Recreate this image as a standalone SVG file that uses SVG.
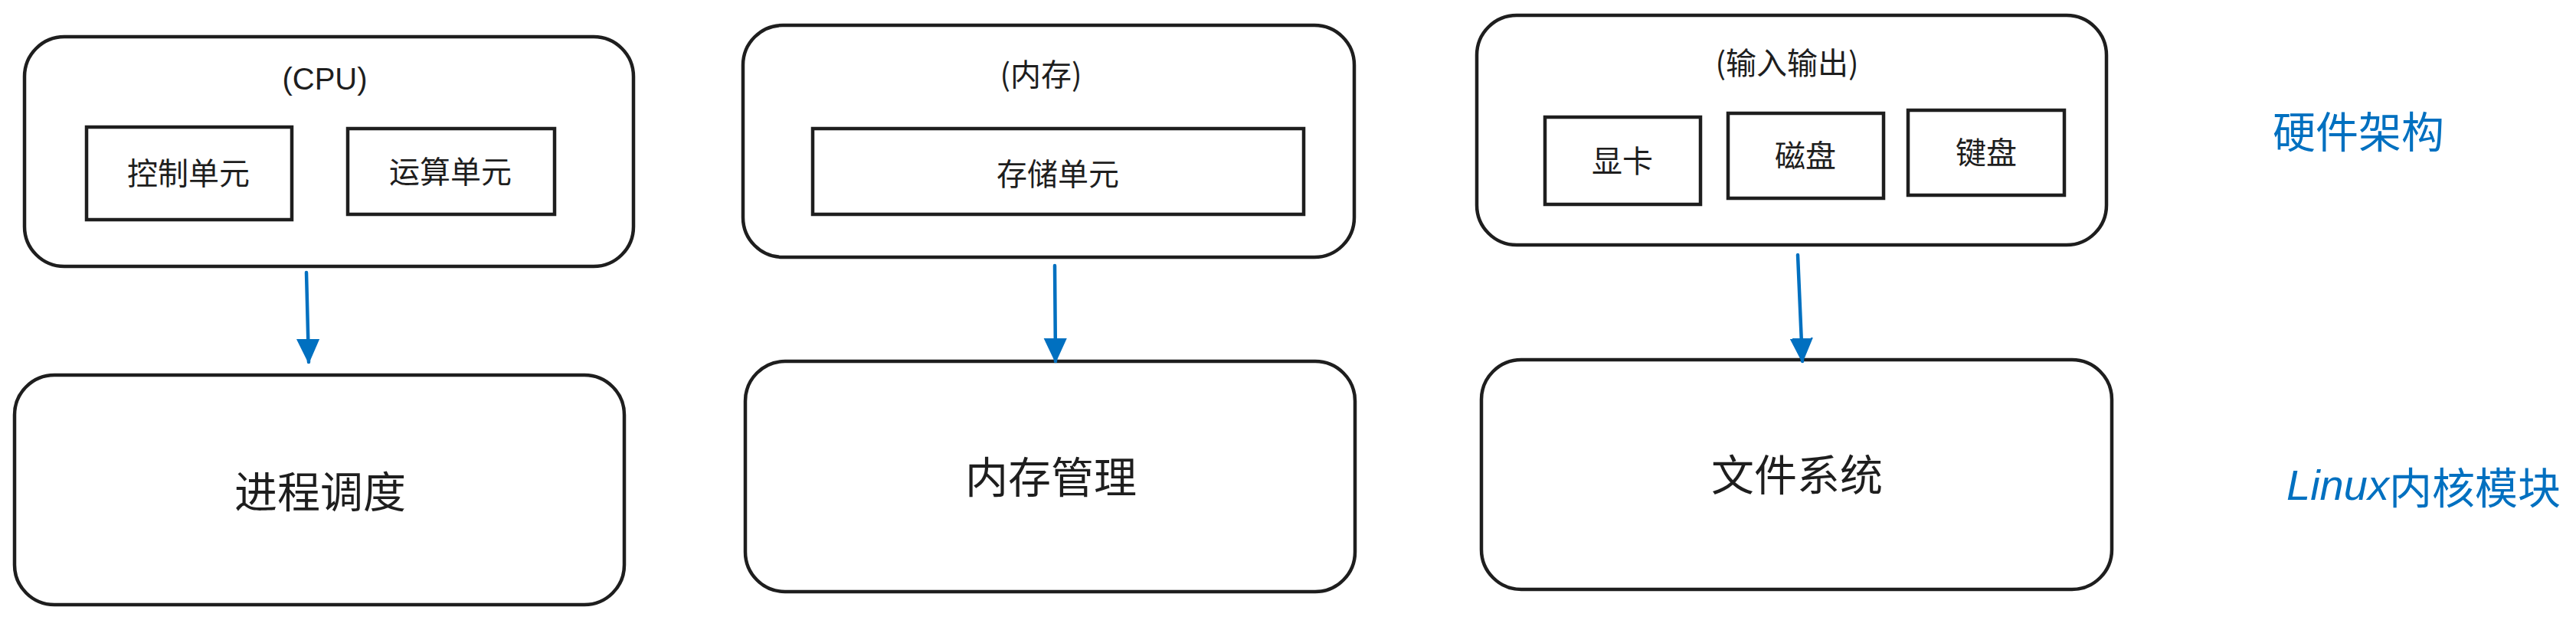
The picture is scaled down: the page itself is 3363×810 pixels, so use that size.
<svg xmlns="http://www.w3.org/2000/svg" width="3363" height="810" viewBox="0 0 3363 810">
  <defs>
    <marker id="ah" markerUnits="userSpaceOnUse" markerWidth="32" markerHeight="32" viewBox="0 0 32 32" refX="30" refY="16" orient="auto">
      <path d="M0,2 L30,16 L0,30 Z" fill="#0070c0" stroke="#0070c0" stroke-width="2" stroke-linejoin="round"/>
    </marker>
  </defs>
  <style>
    .outer { fill: #ffffff; stroke: #1e1e1e; stroke-width: 4.5; }
    .inner { fill: #ffffff; stroke: #1e1e1e; stroke-width: 4.5; }
    .t { font-family: "Noto Sans CJK SC", "Noto Sans", "Liberation Sans", sans-serif; fill: #1e1e1e; text-anchor: middle; dominant-baseline: central; }
    .s40 { font-size: 40px; }
    .s56 { font-size: 56px; }
    .lbl { font-family: "Noto Sans CJK SC", "Noto Sans", "Liberation Sans", sans-serif; fill: #0070c0; font-size: 56px; dominant-baseline: central; }
    .lat { font-family: "Liberation Sans", "Noto Sans", sans-serif; font-style: italic; }
    .conn { stroke: #0070c0; stroke-width: 4.5; fill: none; stroke-linecap: round; }
  </style>
  <rect width="3363" height="810" fill="#ffffff"/>

  <g id="cpu">
    <rect class="outer" x="32" y="48" width="795" height="300" rx="52" ry="52"/>
    <text class="t s40" x="424" y="103" style="font-family: 'Liberation Sans', 'Noto Sans CJK SC', sans-serif;">(CPU)</text>
  </g>
  <g id="ctrl-unit">
    <rect class="inner" x="113" y="166" width="268" height="121"/>
    <text class="t s40" x="246" y="224">控制单元</text>
  </g>
  <g id="alu-unit">
    <rect class="inner" x="454" y="168" width="270" height="112"/>
    <text class="t s40" x="588" y="222">运算单元</text>
  </g>

  <g id="memory">
    <rect class="outer" x="970" y="33" width="798" height="303" rx="52" ry="52"/>
    <text class="t s40" x="1359" y="95">(内存)</text>
  </g>
  <g id="storage-unit">
    <rect class="inner" x="1061" y="168" width="641" height="112"/>
    <text class="t s40" x="1381" y="225">存储单元</text>
  </g>

  <g id="io">
    <rect class="outer" x="1928" y="20" width="822" height="300" rx="52" ry="52"/>
    <text class="t s40" x="2333" y="80">(输入输出)</text>
  </g>
  <g id="gpu">
    <rect class="inner" x="2017" y="153" width="203" height="114"/>
    <text class="t s40" x="2118" y="208">显卡</text>
  </g>
  <g id="disk">
    <rect class="inner" x="2256" y="148" width="203" height="111"/>
    <text class="t s40" x="2357" y="201">磁盘</text>
  </g>
  <g id="keyboard">
    <rect class="inner" x="2491" y="144" width="204" height="111"/>
    <text class="t s40" x="2593" y="197">键盘</text>
  </g>

  <g id="sched">
    <rect class="outer" x="19" y="490" width="796" height="300" rx="52" ry="52"/>
    <text class="t s56" x="418" y="638">进程调度</text>
  </g>
  <g id="mm">
    <rect class="outer" x="973" y="472" width="796" height="301" rx="52" ry="52"/>
    <text class="t s56" x="1372" y="619">内存管理</text>
  </g>
  <g id="fs">
    <rect class="outer" x="1934" y="470" width="823" height="300" rx="52" ry="52"/>
    <text class="t s56" x="2346" y="616">文件系统</text>
  </g>

  <g id="label-hw">
    <text class="lbl" x="2967" y="168">硬件架构</text>
  </g>
  <g id="label-kernel">
    <text class="lbl" x="2985" y="633"><tspan class="lat">Linux</tspan>内核模块</text>
  </g>

  <g id="connectors">
    <line class="conn" x1="400" y1="356" x2="403" y2="473" marker-end="url(#ah)"/>
    <line class="conn" x1="1377" y1="347" x2="1378" y2="472" marker-end="url(#ah)"/>
    <line class="conn" x1="2347" y1="333" x2="2353" y2="472" marker-end="url(#ah)"/>
  </g>
</svg>
